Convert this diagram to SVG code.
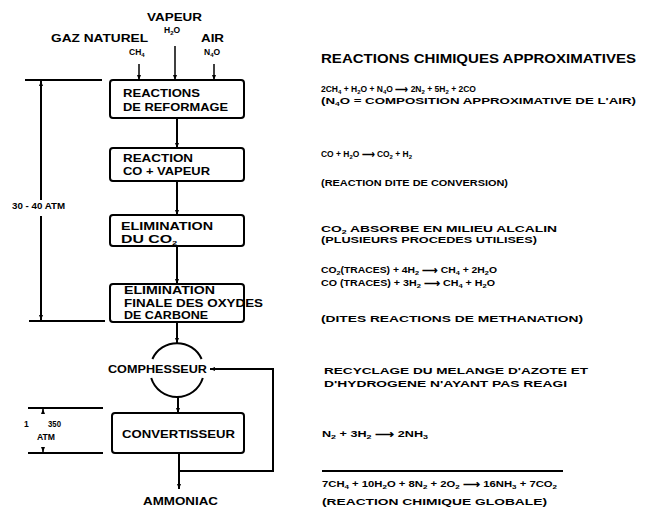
<svg xmlns="http://www.w3.org/2000/svg" width="645" height="508" viewBox="0 0 645 508">
<defs>
<marker id="ah" viewBox="0 0 10 10" refX="10" refY="5" markerWidth="5" markerHeight="5" orient="auto" markerUnits="userSpaceOnUse">
<path d="M0,1 L10,5 L0,9 Z" fill="#000"/>
</marker>
<style>
text{font-family:"Liberation Sans",Arial,sans-serif;font-weight:bold;fill:#000}
.l{font-size:10.5px}
.b{font-size:11px}
.h{font-size:12px}
.r{font-size:9.5px}
.f{font-size:8.5px}
.s{font-size:6px}
.box{fill:#fff;stroke:#000;stroke-width:2}
.ln{fill:none;stroke:#000;stroke-width:2}
.thin{fill:none;stroke:#000;stroke-width:1.5}
</style>
</defs>
<rect width="645" height="508" fill="#fff"/>

<g id="inputs">
<text class="l" x="147" y="21" textLength="55" lengthAdjust="spacingAndGlyphs">VAPEUR</text>
<text class="f" x="164" y="33">H<tspan class="s" dy="2">2</tspan><tspan dy="-2">O</tspan></text>
<text class="l" x="51" y="42" textLength="97" lengthAdjust="spacingAndGlyphs">GAZ NATUREL</text>
<text class="l" x="201" y="42" textLength="23" lengthAdjust="spacingAndGlyphs">AIR</text>
<text class="f" x="129" y="55">CH<tspan class="s" dy="2">4</tspan></text>
<text class="f" x="204" y="55">N<tspan class="s" dy="2">4</tspan><tspan dy="-2">O</tspan></text>
</g>

<g id="reformage">
<rect class="box" x="110" y="80" width="134" height="38" rx="3"/>
<text class="b" x="123" y="97" textLength="77" lengthAdjust="spacingAndGlyphs">REACTIONS</text>
<text class="b" x="123" y="111" textLength="105" lengthAdjust="spacingAndGlyphs">DE REFORMAGE</text>
</g>

<g id="conversion">
<rect class="box" x="110" y="148" width="134" height="33" rx="3"/>
<text class="b" x="123" y="162" textLength="70" lengthAdjust="spacingAndGlyphs">REACTION</text>
<text class="b" x="123" y="175" textLength="87" lengthAdjust="spacingAndGlyphs">CO + VAPEUR</text>
</g>

<g id="elimination-co2">
<rect class="box" x="110" y="215" width="134" height="31" rx="3"/>
<text class="b" x="121" y="230" textLength="92" lengthAdjust="spacingAndGlyphs">ELIMINATION</text>
<text class="b" x="121" y="243" textLength="56" lengthAdjust="spacingAndGlyphs">DU CO<tspan class="s" dy="2">2</tspan></text>
</g>

<g id="elimination-finale">
<rect class="box" x="110" y="284" width="134" height="38" rx="3"/>
<text class="b" x="124" y="294" textLength="91" lengthAdjust="spacingAndGlyphs">ELIMINATION</text>
<text class="b" x="124" y="307" textLength="139" lengthAdjust="spacingAndGlyphs">FINALE DES OXYDES</text>
<text class="b" x="124" y="319" textLength="84" lengthAdjust="spacingAndGlyphs">DE CARBONE</text>
</g>

<g id="compresseur">
<path class="ln" d="M152.4,359 A27,27 0 0 1 201.6,359"/>
<path class="ln" d="M151.2,378 A27,27 0 0 0 202.8,378"/>
<text class="b" x="108" y="373" textLength="99" lengthAdjust="spacingAndGlyphs">COMPHESSEUR</text>
</g>

<g id="convertisseur">
<rect class="box" x="112" y="413" width="132" height="40" rx="3"/>
<text class="b" x="122" y="438" textLength="113" lengthAdjust="spacingAndGlyphs">CONVERTISSEUR</text>
</g>

<g id="ammoniac">
<text class="l" x="143" y="505" textLength="75" lengthAdjust="spacingAndGlyphs">AMMONIAC</text>
</g>

<g id="connectors">
<line class="thin" x1="139" y1="64" x2="139" y2="80" marker-end="url(#ah)"/>
<line class="thin" x1="175" y1="46" x2="175" y2="80" marker-end="url(#ah)"/>
<line class="thin" x1="214" y1="64" x2="214" y2="80" marker-end="url(#ah)"/>
<line class="ln" x1="177" y1="118" x2="177" y2="148" marker-end="url(#ah)"/>
<line class="ln" x1="177" y1="181" x2="177" y2="215" marker-end="url(#ah)"/>
<line class="ln" x1="177" y1="246" x2="177" y2="284" marker-end="url(#ah)"/>
<line class="ln" x1="177" y1="322" x2="177" y2="343" marker-end="url(#ah)"/>
<line class="ln" x1="178" y1="397" x2="178" y2="413" marker-end="url(#ah)"/>
<line class="ln" x1="179" y1="453" x2="179" y2="489" marker-end="url(#ah)"/>
<polyline class="ln" points="179,471 273,471 273,369 210,369" marker-end="url(#ah)"/>
</g>

<g id="dimensions">
<line class="ln" x1="25" y1="80" x2="102" y2="80"/>
<line class="ln" x1="29" y1="321" x2="105" y2="321"/>
<line class="ln" x1="41" y1="200" x2="41" y2="81" marker-end="url(#ah)"/>
<line class="ln" x1="41" y1="216" x2="41" y2="320" marker-end="url(#ah)"/>
<text class="f" x="12" y="209" textLength="53" lengthAdjust="spacingAndGlyphs">30 - 40 ATM</text>
<line class="ln" x1="28" y1="408" x2="103" y2="408"/>
<line class="ln" x1="28" y1="453" x2="103" y2="453"/>
<line class="thin" x1="43" y1="414" x2="43" y2="409" marker-end="url(#ah)"/>
<line class="thin" x1="43" y1="447" x2="43" y2="452" marker-end="url(#ah)"/>
<text class="f" x="24" y="427">1</text>
<text class="f" x="48" y="427" textLength="13" lengthAdjust="spacingAndGlyphs">350</text>
<text class="f" x="37" y="440" textLength="18" lengthAdjust="spacingAndGlyphs">ATM</text>
</g>

<g id="reactions">
<text class="h" x="321" y="63" textLength="315" lengthAdjust="spacingAndGlyphs">REACTIONS CHIMIQUES APPROXIMATIVES</text>
<text class="f" x="321" y="92">2CH<tspan class="s" dy="2">4</tspan><tspan dy="-2"> + H</tspan><tspan class="s" dy="2">2</tspan><tspan dy="-2">O + N</tspan><tspan class="s" dy="2">4</tspan><tspan dy="-2">O ⟶ 2N</tspan><tspan class="s" dy="2">2</tspan><tspan dy="-2"> + 5H</tspan><tspan class="s" dy="2">2</tspan><tspan dy="-2"> + 2CO</tspan></text>
<text class="r" x="321" y="104" textLength="315" lengthAdjust="spacingAndGlyphs">(N<tspan class="s" dy="2">4</tspan><tspan dy="-2">O = COMPOSITION APPROXIMATIVE DE L'AIR)</tspan></text>
<text class="f" x="321" y="157" textLength="91" lengthAdjust="spacingAndGlyphs">CO + H<tspan class="s" dy="2">2</tspan><tspan dy="-2">O ⟶ CO</tspan><tspan class="s" dy="2">2</tspan><tspan dy="-2"> + H</tspan><tspan class="s" dy="2">2</tspan></text>
<text class="r" x="321" y="186" textLength="187" lengthAdjust="spacingAndGlyphs">(REACTION DITE DE CONVERSION)</text>
<text class="r" x="321" y="232" textLength="236" lengthAdjust="spacingAndGlyphs">CO<tspan class="s" dy="2">2</tspan><tspan dy="-2"> ABSORBE EN MILIEU ALCALIN</tspan></text>
<text class="r" x="321" y="243" textLength="216" lengthAdjust="spacingAndGlyphs">(PLUSIEURS PROCEDES UTILISES)</text>
<text class="f" x="321" y="273" textLength="176" lengthAdjust="spacingAndGlyphs">CO<tspan class="s" dy="2">2</tspan><tspan dy="-2">(TRACES) + 4H</tspan><tspan class="s" dy="2">2</tspan><tspan dy="-2"> ⟶ CH</tspan><tspan class="s" dy="2">4</tspan><tspan dy="-2"> + 2H</tspan><tspan class="s" dy="2">2</tspan><tspan dy="-2">O</tspan></text>
<text class="f" x="321" y="286" textLength="174" lengthAdjust="spacingAndGlyphs">CO (TRACES) + 3H<tspan class="s" dy="2">2</tspan><tspan dy="-2"> ⟶ CH</tspan><tspan class="s" dy="2">4</tspan><tspan dy="-2"> + H</tspan><tspan class="s" dy="2">2</tspan><tspan dy="-2">O</tspan></text>
<text class="r" x="321" y="322" textLength="262" lengthAdjust="spacingAndGlyphs">(DITES REACTIONS DE METHANATION)</text>
<text class="r" x="324" y="374" textLength="264" lengthAdjust="spacingAndGlyphs">RECYCLAGE DU MELANGE D'AZOTE ET</text>
<text class="r" x="324" y="387" textLength="243" lengthAdjust="spacingAndGlyphs">D'HYDROGENE N'AYANT PAS REAGI</text>
<text class="f" x="322" y="437" textLength="106" lengthAdjust="spacingAndGlyphs">N<tspan class="s" dy="2">2</tspan><tspan dy="-2"> + 3H</tspan><tspan class="s" dy="2">2</tspan><tspan dy="-2"> ⟶ 2NH</tspan><tspan class="s" dy="2">3</tspan></text>
<line x1="322" y1="471" x2="563" y2="471" stroke="#000" stroke-width="2"/>
<text class="f" x="322" y="487" textLength="235" lengthAdjust="spacingAndGlyphs">7CH<tspan class="s" dy="2">4</tspan><tspan dy="-2"> + 10H</tspan><tspan class="s" dy="2">2</tspan><tspan dy="-2">O + 8N</tspan><tspan class="s" dy="2">2</tspan><tspan dy="-2"> + 2O</tspan><tspan class="s" dy="2">2</tspan><tspan dy="-2"> ⟶ 16NH</tspan><tspan class="s" dy="2">3</tspan><tspan dy="-2"> + 7CO</tspan><tspan class="s" dy="2">2</tspan></text>
<text class="r" x="322" y="505" textLength="225" lengthAdjust="spacingAndGlyphs">(REACTION CHIMIQUE GLOBALE)</text>
</g>
</svg>
